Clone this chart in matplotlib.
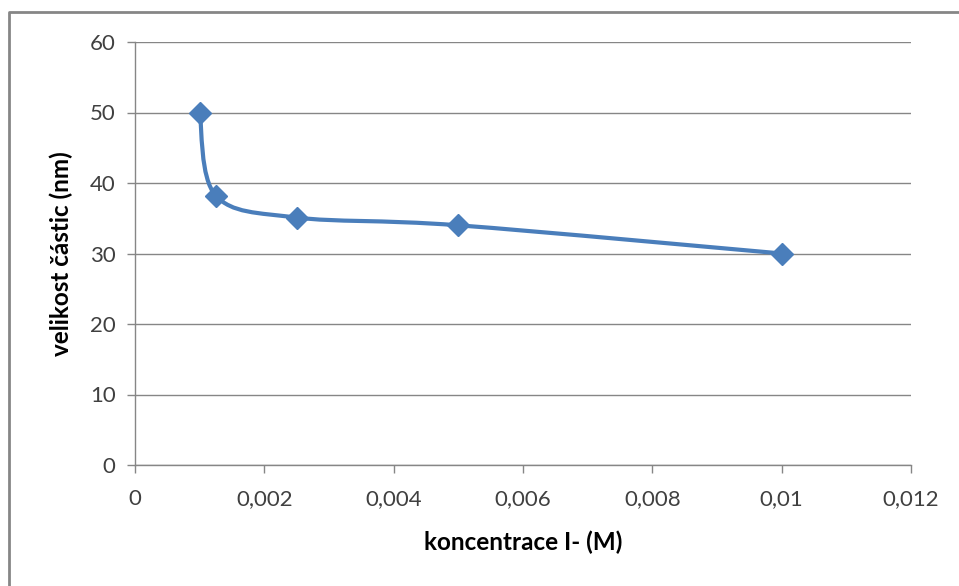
import matplotlib
matplotlib.use('Agg')
import matplotlib.pyplot as plt
import numpy as np
from matplotlib.path import Path
from matplotlib.patches import PathPatch
from matplotlib.lines import Line2D
from matplotlib.ticker import FuncFormatter

# data
conc = [0.001, 0.00125, 0.0025, 0.005, 0.01]
size_nm = [50.0, 38.2, 35.1, 34.0, 30.0]
x_ticks = [0, 0.002, 0.004, 0.006, 0.008, 0.01, 0.012]
y_ticks = [0, 10, 20, 30, 40, 50, 60]

BLUE = '#4A7EBB'
GRID = '#868686'
TXT = '#404040'

plt.rcParams['font.family'] = ['Lato', 'DejaVu Sans']


def smooth_path(xs, ys):
    # Excel-like smoothed line: cubic Bezier through the points (Catmull-Rom tangents)
    pts = np.column_stack([xs, ys]).astype(float)
    n = len(pts)
    verts = [pts[0]]
    codes = [Path.MOVETO]
    for i in range(n - 1):
        p0 = pts[max(i - 1, 0)]
        p1 = pts[i]
        p2 = pts[i + 1]
        p3 = pts[min(i + 2, n - 1)]
        c1 = p1 + (p2 - p0) / 6.0
        c2 = p2 - (p3 - p1) / 6.0
        verts += [c1, c2, p2]
        codes += [Path.CURVE4] * 3
    return Path(verts, codes)


fig = plt.figure(figsize=(9.59, 5.86), dpi=100)
ax = fig.add_axes([135 / 959, 1 - 465 / 586, 776 / 959, 423 / 586])

ax.add_patch(PathPatch(smooth_path(conc, size_nm), facecolor='none',
                       edgecolor=BLUE, linewidth=3.0, capstyle='round',
                       joinstyle='round', zorder=3))
ax.plot(conc, size_nm, linestyle='none', marker='D', markersize=11.5,
        color=BLUE, zorder=4)

ax.set_xlim(0, 0.012)
ax.set_ylim(0, 60)
ax.set_xticks(x_ticks)
ax.set_yticks(y_ticks)
ax.xaxis.set_major_formatter(FuncFormatter(
    lambda v, p: '0' if v == 0 else f'{v:.3f}'.rstrip('0').replace('.', ',')))

ax.grid(axis='y', color=GRID, linewidth=1)
ax.set_axisbelow(True)
for s in ('top', 'right'):
    ax.spines[s].set_visible(False)
for s in ('left', 'bottom'):
    ax.spines[s].set_color(GRID)
    ax.spines[s].set_linewidth(1)
ax.tick_params(axis='both', colors=GRID, labelcolor=TXT, labelsize=16,
               length=6, width=1, direction='out')
ax.tick_params(axis='x', pad=11)
ax.tick_params(axis='y', pad=8)

ax.set_xlabel('koncentrace I- (M)', fontsize=17.5, fontweight='bold', labelpad=16)
ax.set_ylabel('velikost částic (nm)', fontsize=17.5, fontweight='bold', labelpad=12)

# chart frame (only left and top edges visible in the reference)
fy = 1 - 12 / 586
fx = 9 / 959
fig.add_artist(Line2D([fx, fx, 1], [0, fy, fy], color=GRID, linewidth=2,
                      transform=fig.transFigure))

fig.savefig('out.png', dpi=100)
